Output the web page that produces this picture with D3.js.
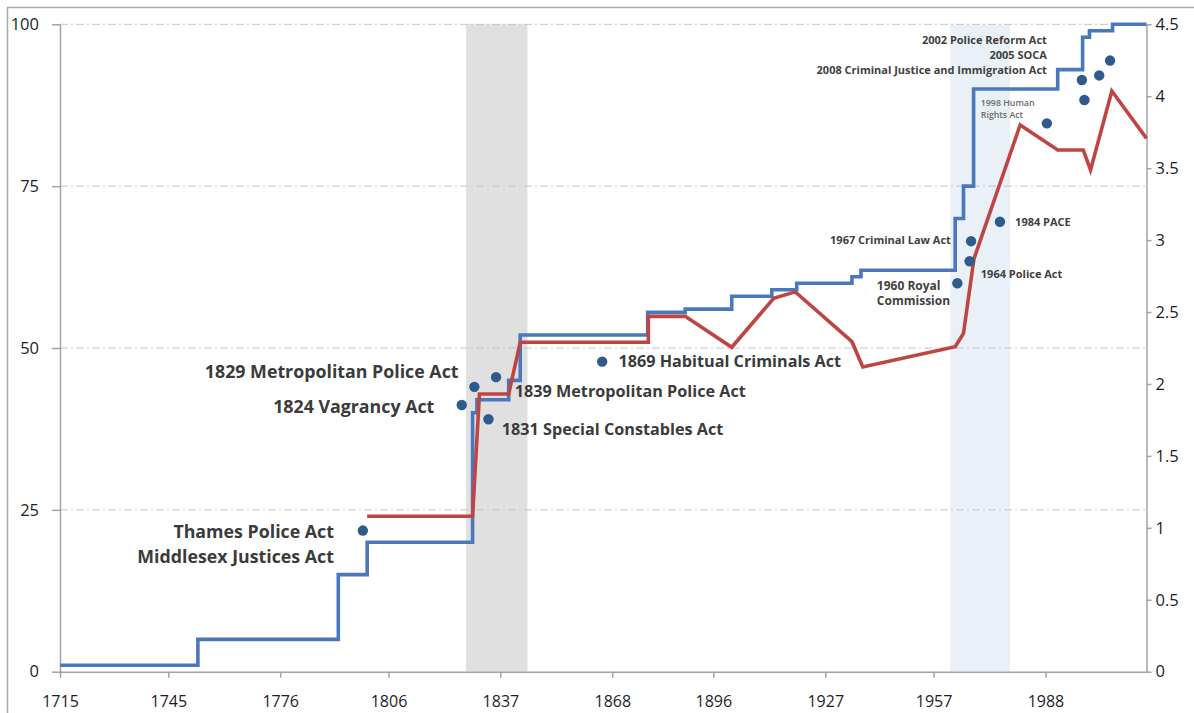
<!DOCTYPE html>
<html><head><meta charset="utf-8">
<script src="https://cdn.jsdelivr.net/npm/d3@7"></script>
<style>
html,body{margin:0;padding:0;background:#fff;overflow:hidden;}
svg{display:block;font-family:"Open Sans",sans-serif;}
</style></head><body>
<svg id="chart" width="1194" height="713"></svg>
<script>
// ---- data ----
const xTickYears = [1715, 1745, 1776, 1806, 1837, 1868, 1896, 1927, 1957, 1988];
const leftTicks = [0, 25, 50, 75, 100];
const rightTicks = [0, 0.5, 1, 1.5, 2, 2.5, 3, 3.5, 4, 4.5];

// blue step series (left axis)
const blueYears  = [1715, 1753.2, 1792.1, 1800.1, 1829.3, 1830.5, 1839.3, 1842.5, 1877.8, 1888.2, 1901.1, 1912.2, 1919.1, 1934.4, 1936.9, 1963.0, 1965.3, 1968.1, 1991.4, 1998.3, 2000.2, 2006.6, 2016];
const blueValues = [1, 5, 15, 20, 40, 42, 45, 52, 55.5, 56, 58, 59, 60, 61, 62, 70, 75, 90, 93, 98, 99, 100, 100];

// red series (right axis)
const redYears  = [1800.1, 1829.3, 1831.2, 1839.3, 1842.5, 1878.0, 1878.0, 1888.2, 1901.1, 1912.7, 1918.7, 1934.4, 1937.4, 1963.0, 1965.3, 1968.2, 1981.0, 1991.4, 1998.5, 2000.5, 2006.4, 2016];
const redValues = [1.08, 1.08, 1.93, 1.93, 2.29, 2.29, 2.47, 2.47, 2.255, 2.595, 2.64, 2.294, 2.118, 2.259, 2.352, 2.87, 3.80, 3.626, 3.626, 3.487, 4.036, 3.707];

// legislation markers (left axis)
const actYears  = [1798.9, 1826.3, 1829.8, 1833.7, 1835.8, 1865.2, 1963.6, 1967.4, 1967.0, 1975.4, 1988.4, 1998.1, 1998.8, 2002.9, 2005.9];
const actValues = [21.8, 41.2, 44.0, 39.0, 45.5, 47.9, 60.0, 66.5, 63.4, 69.5, 84.7, 91.4, 88.3, 92.1, 94.4];

// shaded periods
const bandStarts = [1827.5, 1961.6];
const bandEnds   = [1844.5, 1978.2];

// annotation texts
const annotations = [
  {t:"Thames Police Act", yr:1790.9, v:21.6, a:"end", s:"bigL"},
  {t:"Middlesex Justices Act", yr:1790.9, v:17.8, a:"end", s:"bigL"},
  {t:"1829 Metropolitan Police Act", yr:1825.4, v:46.3, a:"end", s:"bigL"},
  {t:"1824 Vagrancy Act", yr:1818.7, v:40.9, a:"end", s:"bigL"},
  {t:"1839 Metropolitan Police Act", yr:1841.0, v:43.3, a:"start", s:"bigR"},
  {t:"1831 Special Constables Act", yr:1837.4, v:37.4, a:"start", s:"bigR"},
  {t:"1869 Habitual Criminals Act", yr:1869.7, v:47.9, a:"start", s:"bigR"},
  {t:"1967 Criminal Law Act", yr:1961.8, v:66.7, a:"end", s:"mid"},
  {t:"1960 Royal", yr:1941.3, v:59.7, a:"start", s:"mid2"},
  {t:"Commission", yr:1941.3, v:57.3, a:"start", s:"mid2"},
  {t:"1964 Police Act", yr:1970.1, v:61.5, a:"start", s:"mid"},
  {t:"1984 PACE", yr:1979.6, v:69.5, a:"start", s:"mid"},
  {t:"2002 Police Reform Act", yr:1988.4, v:97.6, a:"end", s:"small"},
  {t:"2005 SOCA", yr:1988.4, v:95.3, a:"end", s:"small"},
  {t:"2008 Criminal Justice and Immigration Act", yr:1988.4, v:93.0, a:"end", s:"small"},
  {t:"1998 Human", yr:1970.1, v:87.8, a:"start", s:"tiny"},
  {t:"Rights Act", yr:1970.1, v:86.0, a:"start", s:"tiny"}
];

// ---- drawing ----
const svg = d3.select("#chart");
const W = 1194, H = 713;
const x = d3.scaleLinear().domain([1715, 2016]).range([60, 1146.5]);
const yL = d3.scaleLinear().domain([0, 100]).range([671.7, 24.3]);
const yR = d3.scaleLinear().domain([0, 4.5]).range([671.7, 24.3]);

// frame (screenshot border, top + left)
svg.append("path").attr("d", `M7.5,${H} V7.5 H${W}`)
  .attr("fill", "none").attr("stroke", "#a9a9a9").attr("stroke-width", 1.5);

// bands
const bandColors = ["#e0e0e0", "#eaf0f7"];
svg.append("g").selectAll("rect").data(bandStarts).join("rect")
  .attr("x", d => x(d))
  .attr("width", (d, i) => x(bandEnds[i]) - x(d))
  .attr("y", yL(100)).attr("height", yL(0) - yL(100))
  .attr("fill", (d, i) => bandColors[i]);

// gridlines
svg.append("g").selectAll("line").data(leftTicks.filter(d => d > 0)).join("line")
  .attr("x1", x.range()[0]).attr("x2", x.range()[1])
  .attr("y1", d => yL(d)).attr("y2", d => yL(d))
  .attr("stroke", "#c4c4c4").attr("stroke-width", 1)
  .attr("stroke-dasharray", "8,3,2,3");

function styleAxis(g, size) {
  g.select(".domain").attr("stroke", "#a3a3a3").attr("stroke-width", 1.5);
  g.selectAll(".tick line").attr("stroke", "#a3a3a3").attr("stroke-width", 1.5);
  g.selectAll(".tick text").attr("fill", "#1e1e1e").style("font-size", size + "px")
    .style("font-family", '"Open Sans", sans-serif');
}

const gx = svg.append("g").attr("transform", `translate(0,${yL(0)})`)
  .call(d3.axisBottom(x).tickValues(xTickYears).tickFormat(d3.format("d"))
    .tickSize(6).tickSizeOuter(0).tickPadding(18));
styleAxis(gx, 16);

const gl = svg.append("g").attr("transform", `translate(${x.range()[0]},0)`)
  .call(d3.axisLeft(yL).tickValues(leftTicks).tickSize(8).tickSizeOuter(0).tickPadding(13));
styleAxis(gl, 16.5);

const gr = svg.append("g").attr("transform", `translate(${x.range()[1]},0)`)
  .call(d3.axisRight(yR).tickValues(rightTicks).tickFormat(d3.format("~g"))
    .tickSize(5).tickSizeOuter(0).tickPadding(4));
styleAxis(gr, 16.5);

// blue step line
const blueData = blueYears.map((d, i) => [d, blueValues[i]]);
svg.append("path").datum(blueData)
  .attr("d", d3.line().x(d => x(d[0])).y(d => yL(d[1])).curve(d3.curveStepAfter))
  .attr("fill", "none").attr("stroke", "#4a78be").attr("stroke-width", 3.6)
  .attr("stroke-linejoin", "miter");

// red line
const redData = redYears.map((d, i) => [d, redValues[i]]);
svg.append("path").datum(redData)
  .attr("d", d3.line().x(d => x(d[0])).y(d => yR(d[1])))
  .attr("fill", "none").attr("stroke", "#bf4542").attr("stroke-width", 3.6)
  .attr("stroke-linejoin", "miter");

// markers
svg.append("g").selectAll("circle").data(actYears).join("circle")
  .attr("cx", d => x(d)).attr("cy", (d, i) => yL(actValues[i]))
  .attr("r", 5.2).attr("fill", "#2e5b8c");

// annotations
const sizeMap = {bigL: 17.8, bigR: 16.2, mid: 11, mid2: 12, small: 11, tiny: 8.8};
const weightMap = {bigL: 700, bigR: 700, mid: 700, mid2: 700, small: 700, tiny: 600};
const colorMap = {bigL: "#3b3b3b", bigR: "#3b3b3b", mid: "#3f3f3f", mid2: "#3f3f3f", small: "#3f3f3f", tiny: "#6a6a6a"};
svg.append("g").selectAll("text").data(annotations).join("text")
  .attr("x", d => x(d.yr)).attr("y", d => yL(d.v)).attr("dy", "0.36em")
  .attr("text-anchor", d => d.a)
  .style("font-size", d => sizeMap[d.s] + "px")
  .style("font-weight", d => weightMap[d.s])
  .attr("fill", d => colorMap[d.s])
  .text(d => d.t);
</script>
</body></html>
